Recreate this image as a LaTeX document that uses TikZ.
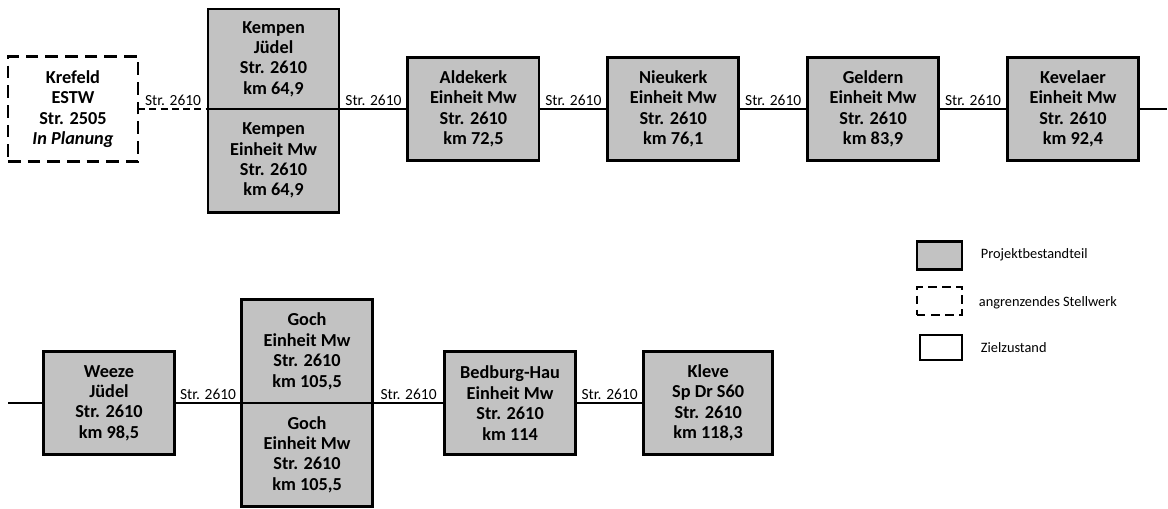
\documentclass[tikz,border=0pt]{standalone}
\usepackage{fontspec}
\setmainfont{Carlito}
\usepackage{xcolor}
\usetikzlibrary{positioning}

\definecolor{stwgray}{gray}{0.76}

\begin{document}
\begin{tikzpicture}[
  x=0.025cm, y=-0.025cm,
  node distance=1.72cm,
  stw/.style={rectangle, draw, line width=2pt, fill=stwgray, outer sep=0pt,
              minimum width=3.275cm, minimum height=2.58cm,
              font=\fontsize{13}{14.5}\selectfont\bfseries, align=center},
  ext/.style={rectangle, draw, line width=1.6pt, dash pattern=on 9pt off 5pt,
              outer sep=0pt, minimum width=3.25cm, minimum height=2.62cm,
              font=\fontsize{13}{14.5}\selectfont\bfseries, align=center},
  track/.style={line width=1.5pt},
  lbl/.style={font=\fontsize{11}{12}\selectfont, above, midway, inner sep=1.5pt},
  legtxt/.style={font=\fontsize{10.2}{11}\selectfont, anchor=west}
]
\useasboundingbox (0,0) rectangle (1168,508);

% upper row
\node[ext] (krefeld) at (73,109) {Krefeld\\ESTW\\Str. 2505\\\textit{In Planung}};
\node[stw, anchor=south west, minimum height=2.5cm] (kempenA)
  at ([xshift=1.75cm]krefeld.east) {Kempen\\Jüdel\\Str. 2610\\km 64,9};
\node[stw, below=0pt of kempenA] (kempenB) {Kempen\\Einheit Mw\\Str. 2610\\km 64,9};
\node[stw, right=of kempenA.south east] (aldekerk) {Aldekerk\\Einheit Mw\\Str. 2610\\km 72,5};
\node[stw, right=of aldekerk] (nieukerk) {Nieukerk\\Einheit Mw\\Str. 2610\\km 76,1};
\node[stw, right=of nieukerk] (geldern)  {Geldern\\Einheit Mw\\Str. 2610\\km 83,9};
\node[stw, right=of geldern]  (kevelaer) {Kevelaer\\Einheit Mw\\Str. 2610\\km 92,4};
\coordinate[right=0.7cm of kevelaer.east] (eastend);

\draw[track, dash pattern=on 5pt off 3pt] (krefeld.east) -- node[lbl]{Str. 2610} (kempenA.south west);
\draw[track] (kempenA.south east) -- node[lbl]{Str. 2610} (aldekerk.west);
\draw[track] (aldekerk.east) -- node[lbl]{Str. 2610} (nieukerk.west);
\draw[track] (nieukerk.east) -- node[lbl]{Str. 2610} (geldern.west);
\draw[track] (geldern.east)  -- node[lbl]{Str. 2610} (kevelaer.west);
\draw[track] (kevelaer.east) -- (eastend);

% lower row
\node[stw] (weeze) at (109,403) {Weeze\\Jüdel\\Str. 2610\\km 98,5};
\node[stw, anchor=south west] (gochA)
  at ([xshift=1.675cm]weeze.east) {Goch\\Einheit Mw\\Str. 2610\\km 105,5};
\node[stw, below=0pt of gochA] (gochB) {Goch\\Einheit Mw\\Str. 2610\\km 105,5};
\node[stw, right=1.8cm of gochA.south east] (bedburg) {Bedburg-Hau\\Einheit Mw\\Str. 2610\\km 114};
\node[stw, right=1.7cm of bedburg, minimum width=3.225cm] (kleve) {Kleve\\Sp Dr S60\\Str. 2610\\km 118,3};
\coordinate[left=0.875cm of weeze.west] (westend);

\draw[track] (westend) -- (weeze.west);
\draw[track] (weeze.east) -- node[lbl]{Str. 2610} (gochA.south west);
\draw[track] (gochA.south east) -- node[lbl]{Str. 2610} (bedburg.west);
\draw[track] (bedburg.east) -- node[lbl]{Str. 2610} (kleve.west);

% legend
\node[stw, minimum width=1.125cm, minimum height=0.68cm] (legA) at (939.5,255.5) {};
\node[ext, minimum width=1.125cm, minimum height=0.7cm, line width=1.3pt,
      dash pattern=on 6pt off 4pt] (legB) at (939.5,301) {};
\node[stw, fill=white, line width=1.3pt, minimum width=1.05cm, minimum height=0.63cm] (legC) at (941,347.5) {};
\node[legtxt] (legAtxt) at (976,255) {Projektbestandteil};
\node[legtxt] (legBtxt) at (974,303) {angrenzendes Stellwerk};
\node[legtxt] (legCtxt) at (976,348) {Zielzustand};

\end{tikzpicture}
\end{document}
